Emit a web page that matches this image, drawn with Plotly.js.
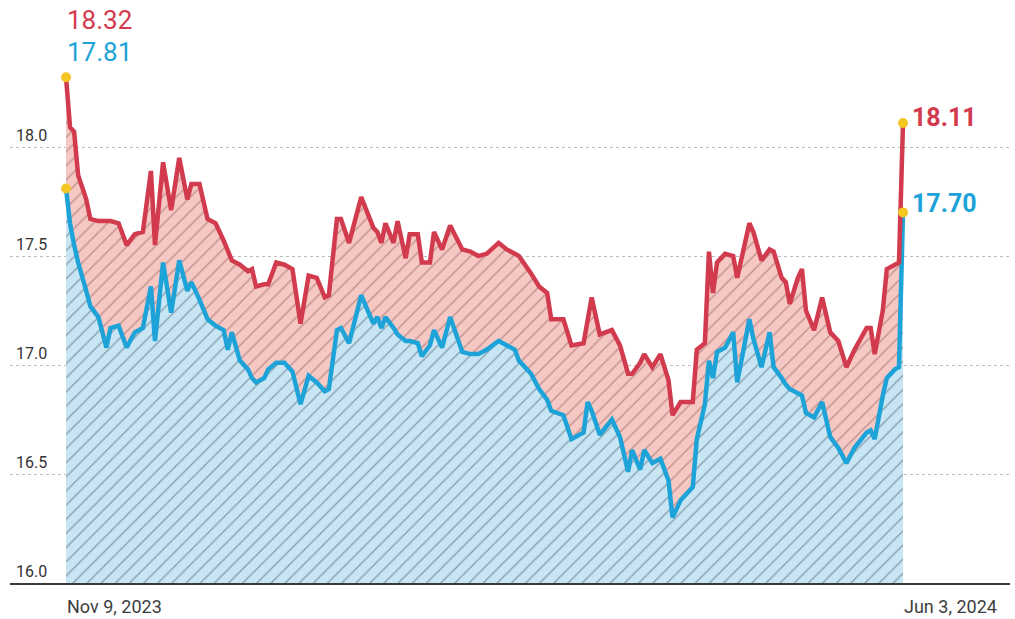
<!DOCTYPE html>
<html>
<head>
<meta charset="utf-8">
<script src="https://cdn.plot.ly/plotly-3.0.1.min.js"></script>
<style>html,body{margin:0;padding:0;background:#fff;}#chart{width:1015px;height:619px;}</style>
</head>
<body>
<div id="chart"></div>
<script>
const dates = [
"2023-11-09","2023-11-10","2023-11-11","2023-11-12","2023-11-14","2023-11-15","2023-11-17","2023-11-19","2023-11-20","2023-11-22",
"2023-11-24","2023-11-26","2023-11-28","2023-11-30","2023-12-01","2023-12-03","2023-12-05","2023-12-07","2023-12-09","2023-12-10",
"2023-12-12","2023-12-14","2023-12-16","2023-12-18","2023-12-19","2023-12-20","2023-12-22","2023-12-24","2023-12-25","2023-12-26",
"2023-12-28","2023-12-29","2023-12-31","2024-01-02","2024-01-04","2024-01-06","2024-01-08","2024-01-10","2024-01-12","2024-01-13",
"2024-01-15","2024-01-16","2024-01-18","2024-01-21","2024-01-24","2024-01-25","2024-01-26","2024-01-27","2024-01-29","2024-01-30",
"2024-02-01","2024-02-02","2024-02-04","2024-02-05","2024-02-07","2024-02-08","2024-02-10","2024-02-12","2024-02-15","2024-02-17",
"2024-02-19","2024-02-21","2024-02-24","2024-02-26","2024-02-28","2024-02-29","2024-03-03","2024-03-05","2024-03-07","2024-03-08",
"2024-03-11","2024-03-13","2024-03-16","2024-03-17","2024-03-18","2024-03-20","2024-03-23","2024-03-25","2024-03-27","2024-03-28",
"2024-03-30","2024-03-31","2024-04-02","2024-04-04","2024-04-06","2024-04-07","2024-04-09","2024-04-12","2024-04-13","2024-04-15",
"2024-04-16","2024-04-17","2024-04-18","2024-04-20","2024-04-22","2024-04-23","2024-04-26","2024-04-27","2024-04-29","2024-05-01",
"2024-05-02","2024-05-04","2024-05-05","2024-05-06","2024-05-08","2024-05-09","2024-05-10","2024-05-12","2024-05-14","2024-05-16",
"2024-05-18","2024-05-20","2024-05-22","2024-05-25","2024-05-26","2024-05-27","2024-05-29","2024-05-30","2024-06-01","2024-06-02",
"2024-06-03"];

const redSeries = [
18.32,18.09,18.07,17.87,17.76,17.67,17.66,17.66,17.66,17.65,
17.55,17.60,17.61,17.89,17.55,17.93,17.71,17.95,17.76,17.83,
17.83,17.67,17.65,17.57,17.53,17.48,17.46,17.43,17.44,17.36,
17.37,17.37,17.47,17.46,17.44,17.19,17.41,17.40,17.31,17.32,
17.67,17.67,17.56,17.77,17.63,17.61,17.56,17.65,17.56,17.66,
17.49,17.60,17.60,17.47,17.47,17.61,17.53,17.64,17.53,17.52,
17.50,17.51,17.56,17.53,17.51,17.50,17.42,17.36,17.33,17.21,
17.21,17.09,17.10,17.21,17.31,17.14,17.16,17.09,16.96,16.96,
17.01,17.05,16.99,17.05,16.93,16.77,16.83,16.83,17.07,17.10,
17.52,17.33,17.47,17.51,17.50,17.40,17.65,17.61,17.48,17.53,
17.52,17.40,17.38,17.28,17.40,17.44,17.25,17.16,17.31,17.15,
17.11,16.99,17.07,17.17,17.17,17.05,17.25,17.44,17.46,17.47,
18.11];

const blueSeries = [
17.81,17.65,17.55,17.47,17.34,17.27,17.22,17.08,17.17,17.18,
17.08,17.15,17.17,17.36,17.11,17.47,17.24,17.48,17.34,17.38,
17.30,17.21,17.18,17.16,17.07,17.15,17.02,16.98,16.94,16.92,
16.94,16.98,17.01,17.01,16.97,16.82,16.95,16.92,16.88,16.89,
17.16,17.17,17.10,17.32,17.19,17.22,17.17,17.22,17.17,17.14,
17.11,17.11,17.10,17.04,17.09,17.16,17.08,17.22,17.06,17.05,
17.05,17.07,17.11,17.09,17.07,17.02,16.96,16.89,16.84,16.79,
16.77,16.66,16.69,16.83,16.79,16.68,16.75,16.67,16.51,16.61,
16.52,16.61,16.55,16.57,16.47,16.30,16.38,16.44,16.66,16.82,
17.02,16.94,17.06,17.08,17.15,16.92,17.21,17.12,16.99,17.15,
16.99,16.94,16.91,16.89,16.87,16.86,16.78,16.76,16.83,16.67,
16.62,16.55,16.62,16.69,16.70,16.66,16.86,16.94,16.98,16.99,
17.70];

const yTicks = [16.0, 16.5, 17.0, 17.5, 18.0];
const yTickText = ["16.0", "16.5", "17.0", "17.5", "18.0"];
const xTicks = ["2023-11-09", "2024-06-03"];
const xTickText = ["Nov 9, 2023", "Jun 3, 2024"];

const RED = "#d23a4e";
const BLUE = "#1ea3d8";
const YELLOW = "#f3c623";
const last = dates.length - 1;

const traces = [
  {
    x: dates, y: blueSeries, type: "scatter", mode: "lines",
    line: {color: BLUE, width: 4.5, shape: "linear"},
    fill: "tozeroy",
    fillcolor: "#c8e5f4",
    fillpattern: {shape: "/", bgcolor: "#c8e5f4", fgcolor: "#87a0b0", size: 10, solidity: 0.14},
    hoverinfo: "skip"
  },
  {
    x: dates, y: redSeries, type: "scatter", mode: "lines",
    line: {color: RED, width: 4.5, shape: "linear"},
    fill: "tonexty",
    fillcolor: "#f5c8c4",
    fillpattern: {shape: "/", bgcolor: "#f5c8c4", fgcolor: "#c3908d", size: 10, solidity: 0.14},
    hoverinfo: "skip"
  },
  {
    x: [dates[0], dates[0], dates[last], dates[last]],
    y: [redSeries[0], blueSeries[0], redSeries[last], blueSeries[last]],
    type: "scatter", mode: "markers",
    marker: {color: YELLOW, size: 10},
    hoverinfo: "skip", cliponaxis: false
  }
];

const layout = {
  width: 1015, height: 619,
  margin: {l: 10, r: 5, t: 38, b: 36},
  paper_bgcolor: "#ffffff", plot_bgcolor: "#ffffff",
  showlegend: false,
  font: {family: "Roboto, 'Open Sans', sans-serif", color: "#333"},
  xaxis: {
    type: "date",
    range: ["2023-10-26 03:30", "2024-06-29 11:00"],
    tickvals: xTicks, ticktext: xTickText,
    ticklabelposition: "outside right",
    ticklabelstandoff: 6,
    ticks: "", showgrid: false, zeroline: false,
    showline: true, linecolor: "#3a3a3a", linewidth: 2,
    tickfont: {size: 18, color: "#3d3d3d"}
  },
  yaxis: {
    range: [16.0, 18.5],
    tickvals: yTicks, ticktext: yTickText,
    ticklabelposition: "inside top",
    ticklabelstandoff: 3,
    ticks: "", showline: false, zeroline: false,
    showgrid: true, gridcolor: "#bdbdbd", griddash: "dot", gridwidth: 1,
    tickfont: {size: 16, color: "#333"}
  },
  annotations: [
    {x: dates[0], y: redSeries[0], xref: "x", yref: "y", text: redSeries[0].toFixed(2),
     showarrow: false, xanchor: "left", yanchor: "middle", xshift: -1, yshift: 57,
     font: {size: 26, color: RED, family: "Roboto, sans-serif"}},
    {x: dates[0], y: redSeries[0], xref: "x", yref: "y", text: blueSeries[0].toFixed(2),
     showarrow: false, xanchor: "left", yanchor: "middle", xshift: -1, yshift: 25,
     font: {size: 26, color: BLUE, family: "Roboto, sans-serif"}},
    {x: dates[last], y: redSeries[last], xref: "x", yref: "y", text: "<b>" + redSeries[last].toFixed(2) + "</b>",
     showarrow: false, xanchor: "left", yanchor: "middle", xshift: 7, yshift: 6,
     font: {size: 25, color: RED, family: "Roboto, sans-serif"}},
    {x: dates[last], y: blueSeries[last], xref: "x", yref: "y", text: "<b>" + blueSeries[last].toFixed(2) + "</b>",
     showarrow: false, xanchor: "left", yanchor: "middle", xshift: 7, yshift: 9,
     font: {size: 25, color: BLUE, family: "Roboto, sans-serif"}}
  ]
};

Plotly.newPlot("chart", traces, layout, {staticPlot: true, displayModeBar: false});
</script>
</body>
</html>
